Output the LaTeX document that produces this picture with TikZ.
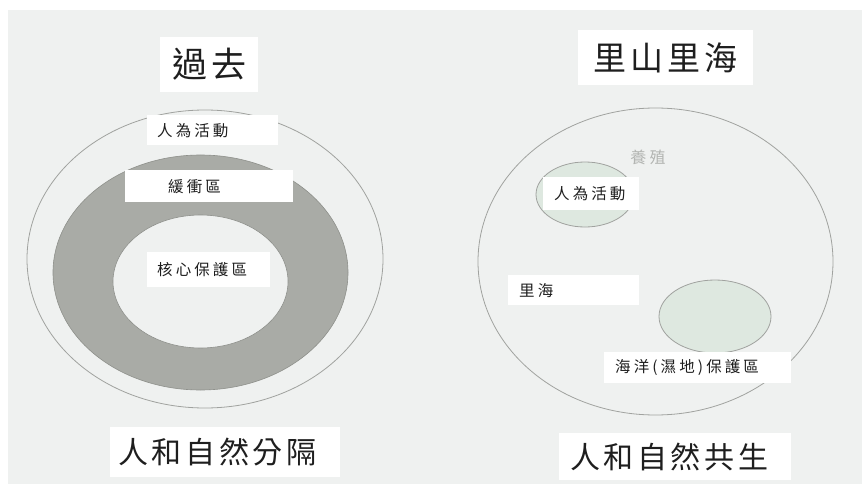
\documentclass[tikz,border=0pt]{standalone}
\usepackage{fontspec}
\newfontfamily\cjkwide[LetterSpace=12]{Noto Sans CJK TC}
\newfontfamily\cjkmid[LetterSpace=20]{Noto Sans CJK TC}
\newcommand\fsz[1]{\fontsize{#1}{#1}\selectfont}
\definecolor{bgc}{HTML}{EFF1F0}
\definecolor{ringc}{HTML}{A9ABA6}
\definecolor{ringedge}{HTML}{8E908B}
\definecolor{linec}{HTML}{A0A29F}
\definecolor{greenc}{HTML}{DEE8E0}
\definecolor{grayt}{HTML}{B3B5B2}
\definecolor{inkc}{HTML}{1E1E1E}
\tikzset{
  box/.style={fill=white, inner xsep=0pt, inner ysep=0pt, anchor=north west, align=left, text=inkc},
  titlebox/.style={fill=white, inner sep=0pt, anchor=north west, align=center, text=inkc},
  ell/.style={draw=linec, line width=0.8pt}
}
\begin{document}
\begin{tikzpicture}[x=1pt,y=-1pt]
\useasboundingbox (0,0) rectangle (862,484);
\fill[white] (0,0) rectangle (862,484);
\fill[bgc] (8,10) rectangle (862,484);

% ---------- left: past ----------
\draw[ell] (205,259) ellipse [x radius=178pt, y radius=149pt];
\fill[ringc, draw=ringedge, line width=0.6pt] (200.5,272.5) ellipse [x radius=147.5pt, y radius=117.5pt];
\fill[bgc, draw=ringedge, line width=0.6pt] (200.5,281.5) ellipse [x radius=87.5pt, y radius=66.5pt];

\node[titlebox, minimum width=98pt, minimum height=55pt] (past) at (160,37) {\cjkwide\fsz{35pt}過去};
\node[box, text width=131pt, minimum height=30pt] (humanL) at (147,115) {\cjkmid\fsz{15.5pt}\hspace*{10pt}人為活動};
\node[box, text width=168pt, minimum height=32pt] (buffer) at (125,170) {\cjkmid\fsz{15.5pt}\hspace*{43pt}緩衝區};
\node[box, text width=123pt, minimum height=35pt] (core) at (147,252) {\cjkmid\fsz{15.5pt}\hspace*{10pt}核心保護區};
\node[box, text width=230pt, minimum height=50pt] (sep) at (110,427) {\cjkwide\fsz{30pt}\hspace*{8pt}人和自然分隔};

% ---------- right: satoyama satoumi ----------
\draw[ell] (655.5,261.5) ellipse [x radius=177.5pt, y radius=153.5pt];
\fill[greenc, draw=linec, line width=0.8pt] (585,194.5) ellipse [x radius=49pt, y radius=32.5pt];
\fill[greenc, draw=linec, line width=0.8pt] (715,316.5) ellipse [x radius=56pt, y radius=36.5pt];

\node[titlebox, minimum width=175pt, minimum height=55pt] (satoyama) at (578,30) {\cjkwide\fsz{33pt}里山里海};
\node[text=grayt, inner sep=0pt] (aqua) at (648,157) {\cjkmid\fsz{16pt}養殖};
\node[box, text width=96pt, minimum height=33pt] (humanR) at (543,177) {\cjkmid\fsz{15.5pt}\hspace*{11pt}人為活動};
\node[box, text width=131pt, minimum height=30pt] (satoumi) at (508,275) {\cjkmid\fsz{15.5pt}\hspace*{11pt}里海};
\node[box, text width=187pt, minimum height=31pt] (marine) at (604,352) {\cjkmid\fsz{15.5pt}\hspace*{11pt}海洋(濕地)保護區};
\node[box, text width=232pt, minimum height=47pt] (coexist) at (559,433) {\cjkwide\fsz{30pt}\hspace*{11pt}人和自然共生};
\end{tikzpicture}
\end{document}
